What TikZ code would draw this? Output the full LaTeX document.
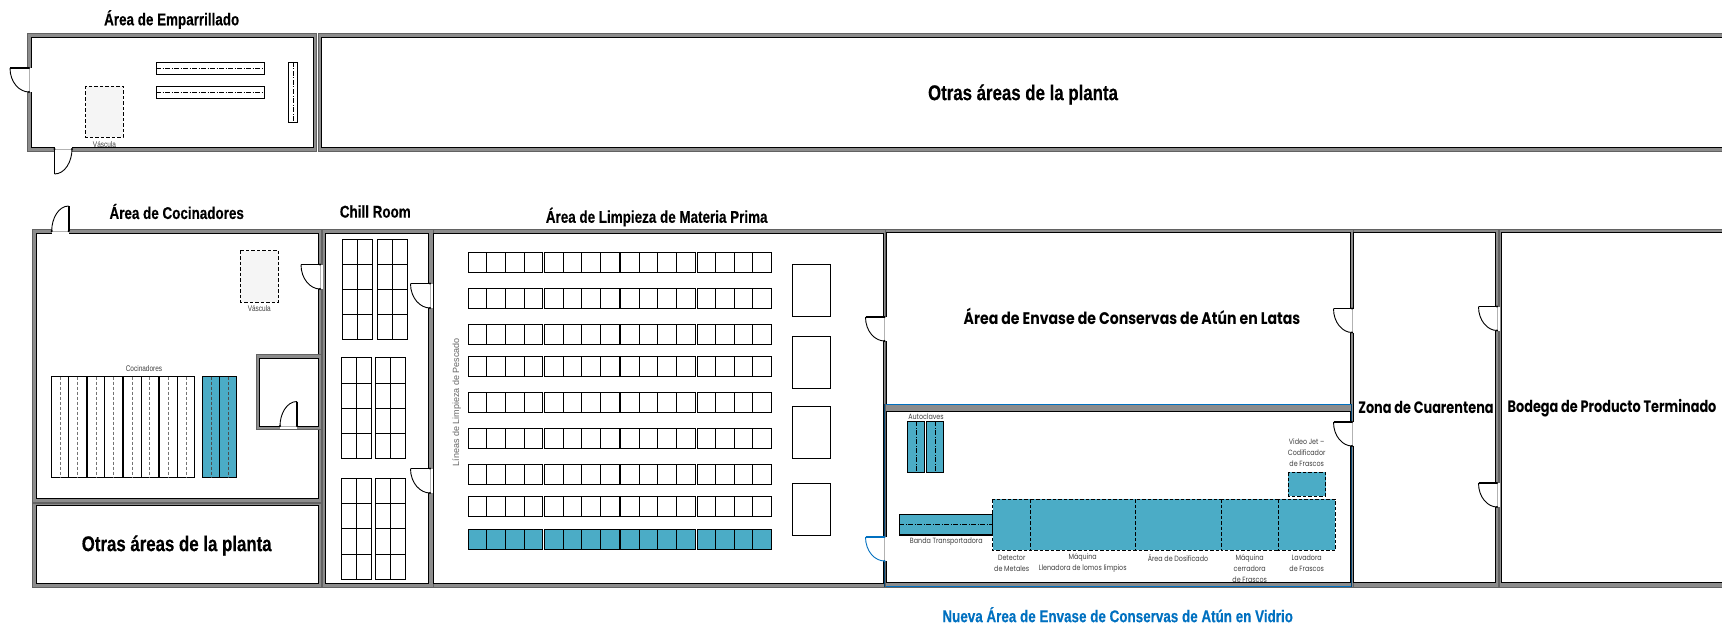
\documentclass[tikz,border=0pt]{standalone}
\usepackage{fontspec}
\setmainfont{Liberation Sans}
\newfontfamily\narrowfont[FakeStretch=0.79, BoldFeatures={FakeBold=0.35}]{Liberation Sans}
\newfontfamily\gothfont[FakeStretch=0.84]{Poppins}
\newfontfamily\gothnarrow[FakeStretch=0.78]{Poppins}
\definecolor{teal1}{HTML}{4BACC6}
\definecolor{wallgray}{HTML}{8C8C8C}
\definecolor{newblue}{HTML}{0070C0}
\tikzset{
    wallout/.style={fill=wallgray, draw=wallgray!70!black, line width=0.5},
    wallin/.style={fill=white, draw=black, line width=0.9},
    cell/.style={draw=black, line width=0.8},
    dashbox/.style={draw=black, dashed, line width=0.9, dash pattern=on 3.5pt off 2pt},
    centre/.style={line width=0.7, dash pattern=on 5pt off 1.5pt on 1pt off 1.5pt},
    title/.style={font=\narrowfont\bfseries\fontsize{17}{20}\selectfont},
    bigtitle/.style={font=\narrowfont\bfseries\fontsize{21.3}{26}\selectfont},
    gothtitle/.style={font=\gothnarrow\bfseries\fontsize{16.5}{18}\selectfont},
    small/.style={font=\gothfont\fontsize{7.6}{11}\selectfont, text=black!75, align=center, inner sep=0},
    smallnarrow/.style={font=\narrowfont\fontsize{8.2}{11}\selectfont, text=black!75, inner sep=0},
    pics/door/.style 2 args={code={
        \fill[white] (-3,0) rectangle (2.5,#2);
        \draw[line width=0.4, gray!60] (0,0) -- (0,#2);
        \draw[line width=0.9] (-#1,0) .. controls (-#1,{#2*0.6}) and ({-#1*0.5},#2) .. (0,#2);
        \draw[line width=1.6] (-#1,0) -- (0,0);
        \fill (0,0) circle (1.2) (0,#2) circle (1.2);
    }},
}
\begin{document}
\begin{tikzpicture}[x=1pt, y=-1pt]
    \path[use as bounding box, clip] (0,0) rectangle (1722,626);

    % walls, upper block
    \draw[wallout] (27.5,33) rectangle (316.5,151);
    \draw[wallin] (31,37) rectangle (313,147);
    \draw[wallout] (318,33) rectangle (1730,151);
    \draw[wallin] (321.5,37) rectangle (1730,147);

    % walls, lower block
    \draw[wallout] (32.5,229) rectangle (321.6,502);
    \draw[wallin] (36,233) rectangle (318,498);
    \draw[wallout] (32.5,503) rectangle (321.6,587);
    \draw[wallin] (36,505.5) rectangle (318,583);
    \draw[wallout] (322.3,229) rectangle (433,587);
    \draw[wallin] (325.7,233) rectangle (428.7,583);
    \draw[wallout] (433,229) rectangle (886,587);
    \draw[wallin] (433.5,233) rectangle (883,583);
    \draw[wallout] (885,229) rectangle (1353.5,587);
    \draw[wallin] (886,232.7) rectangle (1350.7,404);
    \draw[wallin] (886,411) rectangle (1350.7,582.7);
    \draw[newblue, line width=1] (886,404) -- (1351,404) (886,586.7) -- (1351,586.7);
    \draw[newblue!60!black, line width=0.5] (884,404) -- (884,587) (1351,404) -- (1351,587);
    \draw[wallout] (1353,229) rectangle (1498.5,587);
    \draw[wallin] (1353.3,232.7) rectangle (1495.7,582);
    \draw[wallout] (1499,229) rectangle (1730,587);
    \draw[wallin] (1501.7,232.7) rectangle (1730,582);

    % small room
    \draw[wallout] (256.7,354) rectangle (321.3,429.3);
    \draw[wallin] (259.5,358) rectangle (318.3,426);

    % doors
    \pic at (29,68) {door={19}{24}};
    \pic[rotate=90] at (54.5,149) {door={25}{17.5}};
    \pic[rotate=-90] at (68.7,231) {door={25}{17}};
    \pic at (320,264.5) {door={19}{24.5}};
    \pic[rotate=-90] at (297,426) {door={24.5}{17}};
    \pic at (430,283.5) {door={19.5}{24.5}};
    \pic at (430,468.5) {door={19.5}{24.5}};
    \pic at (884.5,317) {door={19}{24}};
    \pic[color=newblue] at (884.5,537) {door={19}{24}};
    \pic at (1352,308.5) {door={18.5}{24}};
    \pic at (1352,422) {door={18.5}{24}};
    \pic at (1497,306.5) {door={18.5}{24}};
    \pic at (1497,483) {door={18.5}{24}};

    % emparrillado bars
    \draw[cell] (156,62) rectangle (264,74);
    \draw[centre] (156,68) -- (264,68);
    \draw[cell] (156,86) rectangle (264,98);
    \draw[centre] (156,92) -- (264,92);
    \draw[cell] (288.5,62) rectangle (297.5,122);
    \draw[centre] (293,62) -- (293,122);

    % scales
    \draw[dashbox, fill=black!4] (85.5,86) rectangle (123,137);
    \node[smallnarrow] (vascula1) at (104.5,144.5) {Váscula};
    \draw[dashbox, fill=black!4] (240.3,250.7) rectangle (278.7,302);
    \node[smallnarrow] (vascula2) at (259.3,309) {Váscula};

    % cookers
    \node[smallnarrow] (cocinadores) at (144,369) {Cocinadores};
    \foreach \x in {51.3,87.3,123.6,159.7} {
        \foreach \dx in {0,17.3} {
            \draw[cell, fill=white] (\x+\dx,376.7) rectangle (\x+\dx+17.3,477.7);
            \draw[black!55, line width=0.6, densely dashed] (\x+\dx+8.8,376.7) -- (\x+\dx+8.8,477.7);
        }
    }
    \foreach \x in {202,219.3} {
        \draw[cell, fill=teal1] (\x,376.7) rectangle (\x+17.3,477.7);
        \draw[black!70, line width=0.6, densely dashed] (\x+8.8,376.7) -- (\x+8.8,477.7);
    }

    % chill room racks
    \foreach \x/\y in {342.7/239, 377.3/239, 341/357.7, 375.7/357.7, 341/478.3, 375.7/478.3} {
        \foreach \i in {0,1} {
            \foreach \j in {0,1,2,3} {
                \draw[cell] (\x+15*\i,\y+25.2*\j) rectangle (\x+15*\i+15,\y+25.2*\j+25.2);
            }
        }
    }

    % cleaning lines
    \node[font=\fontsize{9}{10}\selectfont, text=black!60, rotate=90, inner sep=0] (lineas) at (456.7,402.3) {Líneas de Limpieza de Pescado};
    \foreach \y in {252.3,288.3,324.3,356.3,392.3,428.3,464.3,496} {
        \foreach \x in {468.3,544.7,620.7,697} {
            \foreach \i in {0,1,2,3} {
                \draw[cell] (\x+18.55*\i,\y) rectangle (\x+18.55*\i+18.55,\y+20.3);
            }
        }
    }
    \foreach \x in {468.3,544.7,620.7,697} {
        \foreach \i in {0,1,2,3} {
            \draw[cell, fill=teal1] (\x+18.55*\i,529) rectangle (\x+18.55*\i+18.55,549.3);
        }
    }
    \foreach \y in {264.7,336.7,406.7,483.7} {
        \draw[cell] (792.7,\y) rectangle (830.3,\y+51.3);
    }

    % new jar area
    \foreach \x in {907.3,926.3} {
        \draw[cell, fill=teal1] (\x,421.3) rectangle (\x+17.4,472.3);
        \draw[centre] (\x+8.7,421.3) -- (\x+8.7,472.3);
    }
    \node[small] (autoclaves) at (926,416.7) {Autoclaves};
    \draw[cell, fill=teal1, line width=1.1] (899.3,514.3) rectangle (992.7,535);
    \draw[centre] (899.3,524.6) -- (992.7,524.6);
    \node[small] (banda) at (946.3,541.7) {Banda Transportadora};
    \foreach \xa/\xb in {992.7/1030.3, 1030.3/1135, 1135/1221, 1221/1278.3, 1278.3/1335.3} {
        \draw[dashbox, fill=teal1] (\xa,499) rectangle (\xb,550.3);
    }
    \draw[dashbox, fill=teal1] (1288,472.3) rectangle (1325.7,496);
    \node[small] (detector) at (1011.7,563.2) {Detector\\de Metales};
    \node[small] (llenadora) at (1082.7,563.2) {Máquina\\Llenadora de lomos limpios};
    \node[small] (dosificado) at (1178,557.7) {Área de Dosificado};
    \node[small] (cerradora) at (1249.7,568.7) {Máquina\\cerradora\\de Frascos};
    \node[small] (lavadora) at (1306.7,563.2) {Lavadora\\de Frascos};
    \node[small] (videojet) at (1306.7,452.7) {Video Jet –\\Codificador\\de Frascos};

    % titles
    \node[title] (emparrillado) at (171.7,19.5) {Área de Emparrillado};
    \node[bigtitle] (otras1) at (1023,94.5) {Otras áreas de la planta};
    \node[title] (cocina) at (176.7,211.5) {Área de Cocinadores};
    \node[title] (chill) at (375.3,211.5) {Chill Room};
    \node[title] (limpieza) at (656.7,217) {Área de Limpieza de Materia Prima};
    \node[bigtitle] (otras2) at (176.7,545.5) {Otras áreas de la planta};
    \node[font=\gothfont\bfseries\fontsize{16.8}{18}\selectfont] (latas) at (1132,316.5) {Área de Envase de Conservas de Atún en Latas};
    \node[gothtitle] (zona) at (1426,407.7) {Zona de Cuarentena};
    \node[gothtitle] (bodega) at (1612,407.7) {Bodega de Producto Terminado};
    \node[title, text=newblue] (nueva) at (1117.7,614.7) {Nueva Área de Envase de Conservas de Atún en Vidrio};
\end{tikzpicture}
\end{document}
